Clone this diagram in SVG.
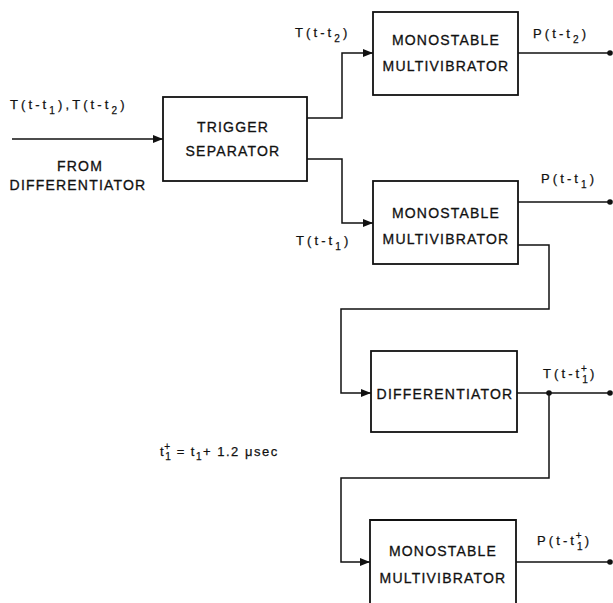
<svg xmlns="http://www.w3.org/2000/svg" width="613" height="603" viewBox="0 0 613 603">
  <style>
    .box { fill: none; stroke: #111; stroke-width: 1.8; }
    .wire { fill: none; stroke: #111; stroke-width: 1.5; }
    .lbl { font-family: "Liberation Sans", Arial, sans-serif; font-size: 14px; letter-spacing: 1.2px; fill: #111; stroke: #111; stroke-width: 0.3; }
    .sig { font-family: "Liberation Sans", Arial, sans-serif; font-size: 13px; letter-spacing: 3.1px; fill: #111; stroke: #111; stroke-width: 0.25; }
    .sub { font-size: 10px; }
    .dot { fill: #111; }
  </style>
  <defs>
    <marker id="arrow" viewBox="0 0 10 8" refX="10" refY="4" markerWidth="10" markerHeight="8" markerUnits="userSpaceOnUse" orient="auto">
      <path d="M0,0 L10,4 L0,8 Z" fill="#111"/>
    </marker>
  </defs>

  <rect width="613" height="603" fill="#fff"/>

  <!-- connectors -->
  <g id="connectors">
    <path class="wire" d="M12,139 H163" marker-end="url(#arrow)"/>
    <path class="wire" d="M307,118 H342 V53 H373" marker-end="url(#arrow)"/>
    <path class="wire" d="M307,159 H342 V223 H373" marker-end="url(#arrow)"/>
    <path class="wire" d="M518,245 H549 V309 H341 V393 H371" marker-end="url(#arrow)"/>
    <path class="wire" d="M549,393 V478 H341 V562 H370" marker-end="url(#arrow)"/>
    <path class="wire" d="M518,53 H610"/>
    <path class="wire" d="M518,202 H610"/>
    <path class="wire" d="M517,393 H610"/>
    <path class="wire" d="M516,562 H610"/>
    <circle class="dot" cx="610" cy="53" r="2.8"/>
    <circle class="dot" cx="610" cy="202" r="2.8"/>
    <circle class="dot" cx="610" cy="393" r="2.8"/>
    <circle class="dot" cx="549" cy="393" r="2.8"/>
    <circle class="dot" cx="610" cy="562" r="2.8"/>
  </g>

  <!-- signal labels -->
  <g id="signals">
    <text class="sig" x="10" y="109">T(t-t<tspan class="sub" dy="5">1</tspan><tspan dy="-5">),T(t-t</tspan><tspan class="sub" dy="5">2</tspan><tspan dy="-5">)</tspan></text>
    <text class="lbl" x="80" y="171" text-anchor="middle">FROM</text>
    <text class="lbl" x="78" y="190" text-anchor="middle">DIFFERENTIATOR</text>
    <text class="sig" x="295" y="37">T(t-t<tspan class="sub" dy="5">2</tspan><tspan dy="-5">)</tspan></text>
    <text class="sig" x="533" y="38">P(t-t<tspan class="sub" dy="5">2</tspan><tspan dy="-5">)</tspan></text>
    <text class="sig" x="541" y="183">P(t-t<tspan class="sub" dy="5">1</tspan><tspan dy="-5">)</tspan></text>
    <text class="sig" x="296" y="245">T(t-t<tspan class="sub" dy="5">1</tspan><tspan dy="-5">)</tspan></text>
    <text class="sig" x="543" y="378">T(t-t<tspan class="sub" dy="5">1</tspan><tspan class="sub" dx="-10" dy="-11">+</tspan><tspan dy="6">)</tspan></text>
    <text class="sig" x="537" y="545">P(t-t<tspan class="sub" dy="5">1</tspan><tspan class="sub" dx="-10" dy="-11">+</tspan><tspan dy="6">)</tspan></text>
    <text class="sig" x="160" y="456" style="letter-spacing:1.5px">t<tspan class="sub" dy="4">1</tspan><tspan class="sub" dx="-8" dy="-10">+</tspan><tspan dy="6"> = t</tspan><tspan class="sub" dy="4">1</tspan><tspan dy="-4">+ 1.2  μsec</tspan></text>
  </g>

  <!-- blocks -->
  <g id="trigger-separator">
    <rect class="box" x="163" y="97" width="144" height="84"/>
    <text class="lbl" x="233" y="132" text-anchor="middle">TRIGGER</text>
    <text class="lbl" x="233" y="156" text-anchor="middle">SEPARATOR</text>
  </g>
  <g id="multivibrator-t2">
    <rect class="box" x="373" y="12" width="145" height="83"/>
    <text class="lbl" x="446" y="45" text-anchor="middle">MONOSTABLE</text>
    <text class="lbl" x="446" y="71" text-anchor="middle">MULTIVIBRATOR</text>
  </g>
  <g id="multivibrator-t1">
    <rect class="box" x="373" y="181" width="145" height="83"/>
    <text class="lbl" x="446" y="218" text-anchor="middle">MONOSTABLE</text>
    <text class="lbl" x="446" y="244" text-anchor="middle">MULTIVIBRATOR</text>
  </g>
  <g id="differentiator">
    <rect class="box" x="371" y="351" width="146" height="81"/>
    <text class="lbl" x="445" y="399" text-anchor="middle">DIFFERENTIATOR</text>
  </g>
  <g id="multivibrator-t1-plus">
    <path class="box" d="M370,603 V520 H516 V603"/>
    <text class="lbl" x="443" y="556" text-anchor="middle">MONOSTABLE</text>
    <text class="lbl" x="443" y="583" text-anchor="middle">MULTIVIBRATOR</text>
  </g>
</svg>
